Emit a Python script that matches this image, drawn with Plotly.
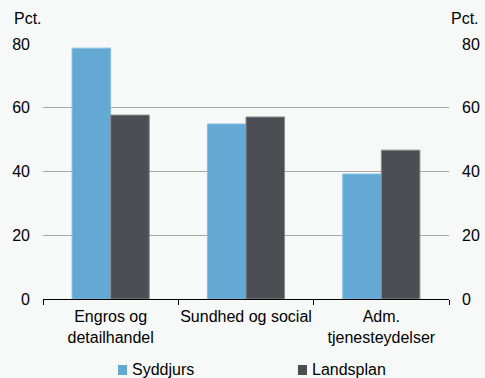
import plotly.graph_objects as go

categories = ["Engros og<br>detailhandel", "Sundhed og social", "Adm.<br>tjenesteydelser"]
syddjurs = [78.7, 54.9, 39.2]
landsplan = [57.7, 57.1, 46.7]
tick_vals = [0, 20, 40, 60, 80]
series_names = ["Syddjurs", "Landsplan"]
series_colors = ["#63A9D4", "#4D4E53"]

BG = "#F7F9F9"
FONT = "Liberation Sans, Arial, sans-serif"
FS = 16

fig = go.Figure()
fig.add_trace(go.Bar(x=categories, y=syddjurs, name=series_names[0],
                     marker=dict(color=series_colors[0], line=dict(color="#86BEE0", width=1))))
fig.add_trace(go.Bar(x=categories, y=landsplan, name=series_names[1],
                     marker=dict(color=series_colors[1], line=dict(color="#8A8B8F", width=1))))
# invisible trace for right axis
fig.add_trace(go.Scatter(x=categories, y=landsplan, yaxis="y2", mode="markers",
                         marker=dict(opacity=0), showlegend=False, hoverinfo="skip"))

# manual legend (swatch + label) below the chart
legend_x = [0.1847, 0.628]
shapes = []
annotations = []
for name, color, lx in zip(series_names, series_colors, legend_x):
    shapes.append(dict(type="rect", xref="paper", yref="paper", x0=lx, x1=lx + 0.0222,
                       y0=-0.2980, y1=-0.2588, fillcolor=color, line=dict(width=0)))
    annotations.append(dict(text=name, xref="paper", yref="paper", x=lx + 0.0296, y=-0.237,
                            xanchor="left", yanchor="top", showarrow=False,
                            font=dict(size=FS)))

annotations += [
    dict(text="Pct.", xref="paper", yref="paper", x=-0.0764, y=1.141, xanchor="left",
         yanchor="top", showarrow=False, font=dict(size=FS)),
    dict(text="Pct.", xref="paper", yref="paper", x=1.0788, y=1.141, xanchor="right",
         yanchor="top", showarrow=False, font=dict(size=FS)),
]

fig.update_layout(
    width=485, height=378,
    paper_bgcolor=BG, plot_bgcolor=BG,
    margin=dict(l=43, r=36, t=44, b=79, autoexpand=False),
    font=dict(family=FONT, size=FS, color="#000000"),
    barmode="group", bargap=0.43, bargroupgap=0,
    showlegend=False,
    xaxis=dict(tickson="boundaries", ticks="outside", ticklen=5, tickcolor="#000",
               tickangle=0, showline=True, linecolor="#000", linewidth=1, showgrid=False,
               ticklabelstandoff=3, automargin=False),
    yaxis=dict(range=[0, 80], tickvals=tick_vals, showgrid=True, gridcolor="#A6A6A6",
               gridwidth=1, zeroline=False, showline=False, ticklabelstandoff=12,
               automargin=False),
    yaxis2=dict(range=[0, 80], tickvals=tick_vals, overlaying="y", side="right",
                showgrid=False, zeroline=False, showline=False, ticklabelstandoff=12,
                automargin=False),
    shapes=shapes,
    annotations=annotations,
)

fig.write_html("out.html", config={"displayModeBar": False},
               post_script="document.body.style.margin='0';document.body.style.background='#F7F9F9';")
